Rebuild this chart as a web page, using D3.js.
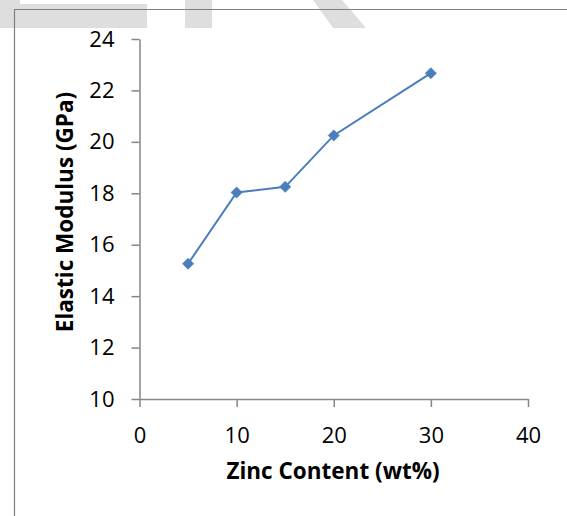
<!DOCTYPE html>
<html lang="en">
  <head>
    <meta charset="UTF-8" />
    <title>Elastic Modulus vs Zinc Content</title>
    <style>
      body { margin: 0; background: #fff; }
      text { font-family: "Open Sans", "Liberation Sans", sans-serif; fill: #000; }
    </style>
  </head>
  <body>
    <script src="https://d3js.org/d3.v7.min.js"></script>
    <script>
      const zinc = [5, 10, 15, 20, 30];
      const modulus = [15.26, 18.03, 18.25, 20.25, 22.67];
      const xTicks = [0, 10, 20, 30, 40];
      const yTicks = [10, 12, 14, 16, 18, 20, 22, 24];

      const width = 567, height = 516;
      const axisColor = "#868686";
      const lineColor = "#4a7ebb";

      const svg = d3.select("body")
        .append("svg")
        .attr("width", width)
        .attr("height", height);

      // faded watermark shapes at the top
      const wm = svg.append("g").attr("fill", "#dedede");
      wm.append("path").attr("d", "M0,0 H20 V4 H147 V28 H0 Z");
      wm.append("rect").attr("x", 185).attr("y", 0).attr("width", 27).attr("height", 28);
      wm.append("path").attr("d", "M313,0 H342 L366,28 H333 Z");

      // frame lines
      svg.append("path")
        .attr("d", "M14.5,516 V9.5 H567")
        .attr("fill", "none")
        .attr("stroke", "#808080")
        .attr("stroke-width", 1.2);

      const x = d3.scaleLinear().domain([0, 40]).range([139.5, 528]);
      const y = d3.scaleLinear().domain([10, 24]).range([399, 39]);

      // y axis
      const yAxis = svg.append("g")
        .attr("transform", `translate(${x(0)},0)`)
        .call(d3.axisLeft(y).tickValues(yTicks).tickSize(8).tickSizeOuter(0).tickPadding(17));
      // x axis
      const xAxis = svg.append("g")
        .attr("transform", `translate(0,${y(10)})`)
        .call(d3.axisBottom(x).tickValues(xTicks).tickSize(8).tickSizeOuter(0).tickPadding(20));

      [yAxis, xAxis].forEach(g => {
        g.select(".domain").attr("stroke", axisColor).attr("stroke-width", 1.5);
        g.selectAll(".tick line").attr("stroke", axisColor).attr("stroke-width", 1.5);
        g.selectAll(".tick text")
          .style("font-family", "'Open Sans', sans-serif")
          .style("font-size", "22px")
          .attr("fill", "#000");
      });

      // line
      const pts = zinc.map((z, i) => [x(z), y(modulus[i])]);
      svg.append("path")
        .datum(pts)
        .attr("d", d3.line())
        .attr("fill", "none")
        .attr("stroke", lineColor)
        .attr("stroke-width", 2);

      // diamond markers
      svg.append("g").selectAll("path")
        .data(pts)
        .join("path")
        .attr("transform", d => `translate(${d[0]},${d[1]})`)
        .attr("d", "M0,-5.5 L5.5,0 L0,5.5 L-5.5,0 Z")
        .attr("fill", lineColor)
        .attr("stroke", lineColor)
        .attr("stroke-width", 0.8);

      // axis titles
      svg.append("text")
        .attr("x", 333)
        .attr("y", 479)
        .attr("text-anchor", "middle")
        .style("font-size", "22.5px")
        .style("font-weight", "bold")
        .text("Zinc Content (wt%)");

      svg.append("text")
        .attr("transform", "translate(73,212) rotate(-90)")
        .attr("text-anchor", "middle")
        .style("font-size", "22.5px")
        .style("font-weight", "bold")
        .text("Elastic Modulus (GPa)");
    </script>
  </body>
</html>
